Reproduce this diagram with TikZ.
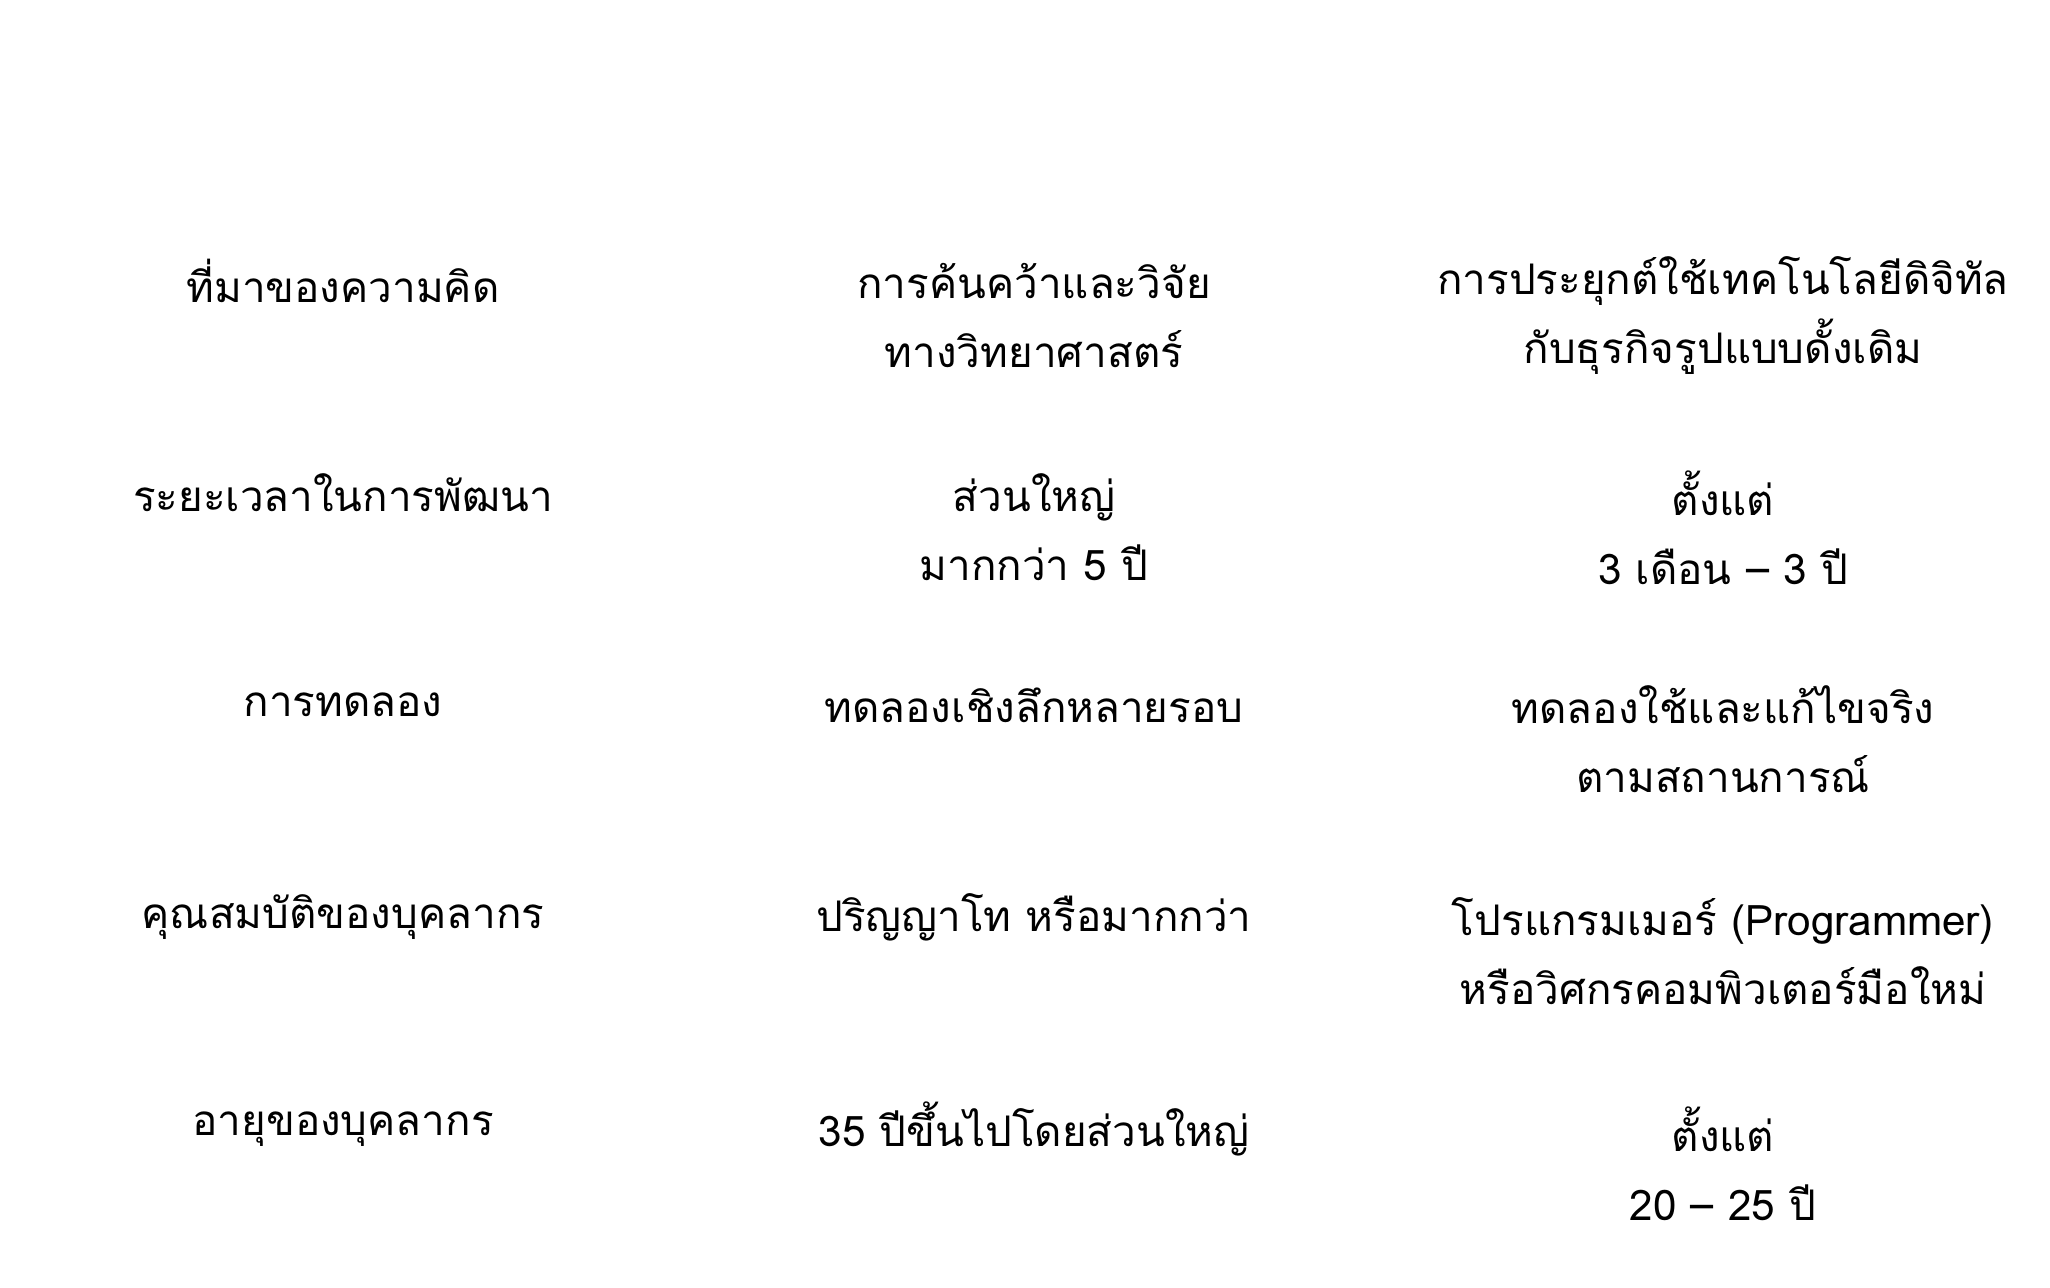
\documentclass[tikz,border=0pt]{standalone}
\usepackage{fontspec}
\newfontfamily\thaifont[Script=Thai]{Loma}
\usetikzlibrary{positioning}
\begin{document}
\begin{tikzpicture}[x=1cm,y=1cm,
  cell/.style={align=center,font=\thaifont\fontsize{12}{19.6}\selectfont,inner sep=0pt}]
  \useasboundingbox (0,0) rectangle (20.5,-12.87);

  \node[cell] (a1) at (3.43,-2.81)  {ที่มาของความคิด};
  \node[cell] (b1) at (10.34,-3.155) {การค้นคว้าและวิจัย\\ทางวิทยาศาสตร์};
  \node[cell] (c1) at (17.23,-3.155) {การประยุกต์ใช้เทคโนโลยีดิจิทัล\\กับธุรกิจรูปแบบดั้งเดิม};

  \node[cell] (a2) at (3.43,-4.93)  {ระยะเวลาในการพัฒนา};
  \node[cell] (b2) at (10.34,-5.275) {ส่วนใหญ่\\มากกว่า 5 ปี};
  \node[cell] (c2) at (17.23,-5.275) {ตั้งแต่\\3 เดือน – 3 ปี};

  \node[cell] (a3) at (3.43,-7.05)  {การทดลอง};
  \node[cell] (b3) at (10.34,-7.05) {ทดลองเชิงลึกหลายรอบ};
  \node[cell] (c3) at (17.23,-7.395) {ทดลองใช้และแก้ไขจริง\\ตามสถานการณ์};

  \node[cell] (a4) at (3.43,-9.17)  {คุณสมบัติของบุคลากร};
  \node[cell] (b4) at (10.34,-9.17) {ปริญญาโท หรือมากกว่า};
  \node[cell] (c4) at (17.23,-9.515) {โปรแกรมเมอร์ (Programmer)\\หรือวิศกรคอมพิวเตอร์มือใหม่};

  \node[cell] (a5) at (3.43,-11.29)  {อายุของบุคลากร};
  \node[cell] (b5) at (10.34,-11.29) {35 ปีขึ้นไปโดยส่วนใหญ่};
  \node[cell] (c5) at (17.23,-11.635) {ตั้งแต่\\20 – 25 ปี};
\end{tikzpicture}
\end{document}
